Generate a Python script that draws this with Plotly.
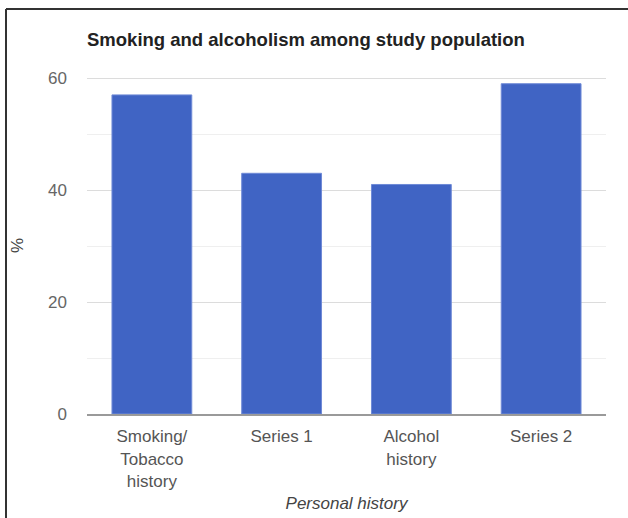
import plotly.graph_objects as go

categories = ["Smoking/<br>Tobacco<br>history", "Series 1", "Alcohol<br>history", "Series 2"]
values = [57, 43, 41, 59]
y_ticks = [0, 20, 40, 60]

W, H = 628, 518
L, R, T, B = 87, 22, 77, 104
pw, ph = W - L - R, H - T - B

def px_x(x):
    return (x - L) / pw

def px_y(y):
    return (H - B - y) / ph

fig = go.Figure(go.Bar(
    x=categories, y=values,
    marker=dict(color="#4064C4", line=dict(color="#6f8ad6", width=1)),
    hoverinfo="x+y",
))

fig.update_layout(
    width=W, height=H,
    margin=dict(l=L, r=R, t=T, b=B),
    paper_bgcolor="white", plot_bgcolor="white",
    bargap=0.385,
    showlegend=False,
    font=dict(family="Liberation Sans, Arial, sans-serif", size=17, color="#555555"),
    title=dict(
        text="<b>Smoking and alcoholism among study population</b>",
        font=dict(size=18.5, color="#222222"),
        x=0, xref="paper", xanchor="left",
        y=1 - 40 / H, yref="container", yanchor="middle",
    ),
    xaxis=dict(
        automargin=False,
        showgrid=False, showline=True, linecolor="#9a9a9a", linewidth=2,
        ticks="", ticklabelstandoff=6,
        tickfont=dict(size=17, color="#555555"),
        title=dict(text="<i>Personal history</i>", font=dict(size=17, color="#444444"), standoff=8),
    ),
    yaxis=dict(
        automargin=False,
        range=[0, 60.2], tickvals=y_ticks, showgrid=True, gridcolor="#dcdcdc", gridwidth=1,
        zeroline=False, showline=False, ticks="", ticklabelstandoff=19,
        tickfont=dict(size=17, color="#666666"),
        minor=dict(dtick=10, tick0=0, showgrid=True, gridcolor="#efefef", gridwidth=1),
        title=dict(text="%", font=dict(size=17, color="#444444"), standoff=20),
    ),
    shapes=[
        dict(type="line", xref="paper", yref="paper",
             x0=px_x(6), x1=px_x(6), y0=px_y(9), y1=px_y(H + 5),
             line=dict(color="#333333", width=2)),
        dict(type="line", xref="paper", yref="paper",
             x0=px_x(6), x1=px_x(W + 5), y0=px_y(9), y1=px_y(9),
             line=dict(color="#333333", width=2)),
    ],
)

fig.write_html("out.html")
